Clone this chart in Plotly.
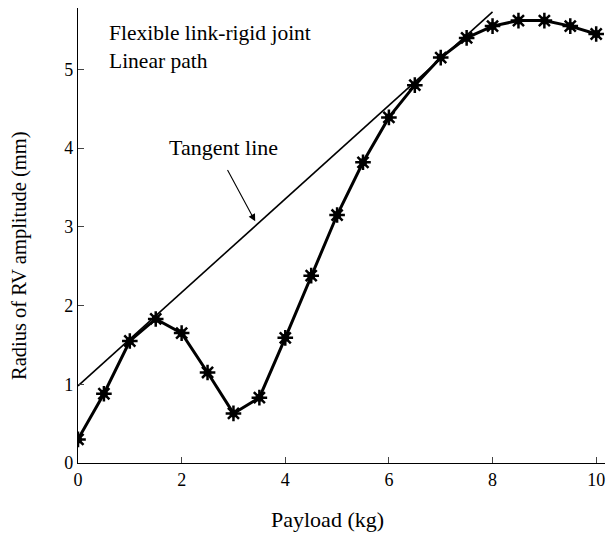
import plotly.graph_objects as go

payload = [0, 0.5, 1, 1.5, 2, 2.5, 3, 3.5, 4, 4.5, 5, 5.5, 6, 6.5, 7, 7.5, 8, 8.5, 9, 9.5, 10]
radius = [0.30, 0.88, 1.55, 1.83, 1.65, 1.15, 0.63, 0.83, 1.59, 2.38, 3.15, 3.82, 4.39, 4.80, 5.15, 5.40, 5.55, 5.62, 5.62, 5.55, 5.45]
tangent_x = [0, 8]
tangent_y = [0.98, 5.73]

font = "Liberation Serif"
fig = go.Figure()
fig.add_trace(go.Scatter(x=tangent_x, y=tangent_y, mode="lines",
                         line=dict(color="black", width=1.6), showlegend=False))
fig.add_trace(go.Scatter(x=payload, y=radius, mode="lines+markers",
                         line=dict(color="black", width=3),
                         marker=dict(symbol="circle", size=8, color="black"),
                         showlegend=False))
fig.add_trace(go.Scatter(x=payload, y=radius, mode="markers",
                         marker=dict(symbol="asterisk-open", size=13, color="black",
                                     line=dict(color="black", width=2.5)),
                         showlegend=False))

fig.add_annotation(x=3.42, y=3.07, ax=2.87, ay=3.74, xref="x", yref="y", axref="x", ayref="y",
                   text="", showarrow=True, arrowhead=2, arrowsize=1.3, arrowwidth=1.1,
                   arrowcolor="black")
fig.add_annotation(x=2.8, y=3.82, xref="x", yref="y", text="Tangent line", showarrow=False,
                   font=dict(family=font, size=22, color="black"), xanchor="center", yanchor="bottom")
fig.add_annotation(x=0.56, y=5.64, xref="x", yref="y", text="Flexible link-rigid joint<br>Linear path",
                   showarrow=False, align="left", xanchor="left", yanchor="top",
                   font=dict(family=font, size=21.5, color="black"))
# axis titles
fig.add_annotation(x=-0.11, y=0.455, xref="paper", yref="paper", text="Radius of RV amplitude (mm)",
                   textangle=-90, showarrow=False, xanchor="center", yanchor="middle",
                   font=dict(family=font, size=20.5, color="black"))
fig.add_annotation(x=0.474, y=-0.125, xref="paper", yref="paper", text="Payload (kg)",
                   showarrow=False, xanchor="center", yanchor="middle",
                   font=dict(family=font, size=22, color="black"))

fig.update_layout(
    width=607, height=535,
    margin=dict(l=78, r=2, t=8, b=72),
    paper_bgcolor="white", plot_bgcolor="white",
    font=dict(family=font, size=16, color="black"),
    xaxis=dict(range=[0, 10.17], tickvals=[0, 2, 4, 6, 8, 10], ticks="inside", ticklen=6,
               showline=True, linecolor="black", linewidth=1.2, showgrid=False, zeroline=False,
               automargin=False, tickfont=dict(size=18)),
    yaxis=dict(range=[0, 5.78], tickvals=[0, 1, 2, 3, 4, 5], ticks="inside", ticklen=6,
               showline=True, linecolor="black", linewidth=1.2, showgrid=False, zeroline=False,
               automargin=False, tickfont=dict(size=18)),
)
fig.write_html("out.html", config={"displayModeBar": False},
               post_script="document.body.style.margin='0';document.body.style.overflow='hidden';")
